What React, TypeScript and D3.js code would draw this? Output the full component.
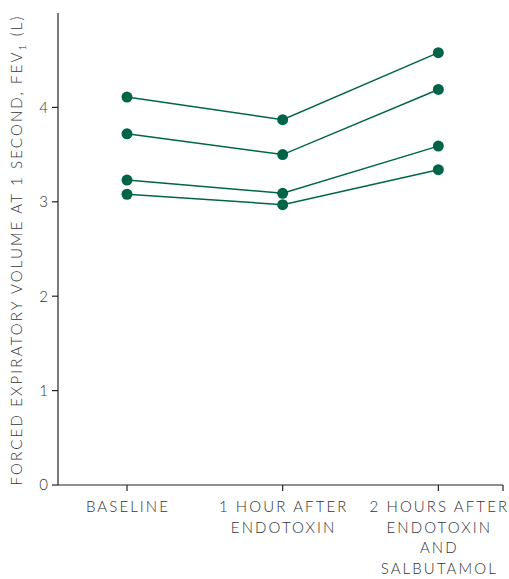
import React from "react";
import * as d3 from "d3";

const categories = ["BASELINE", "1 HOUR AFTER|ENDOTOXIN", "2 HOURS AFTER|ENDOTOXIN|AND|SALBUTAMOL"];
const series1 = [4.11, 3.87, 4.58];
const series2 = [3.72, 3.50, 4.19];
const series3 = [3.23, 3.09, 3.59];
const series4 = [3.08, 2.97, 3.34];
const allSeries = [series1, series2, series3, series4];
const yTicks = [0, 1, 2, 3, 4];

const W = 509, H = 579;
const left = 58, right = 503, top = 13, bottom = 485;
const green = "#006548";
const textColor = "#333";
const font = "Lato, 'Open Sans', sans-serif";

export default function App() {
  const y = d3.scaleLinear().domain([0, 5]).range([bottom, top]);
  const x = d3.scalePoint<number>().domain([0, 1, 2, 3]).range([127, 438 + (438 - 282)]);
  const line = d3.line<number>().x((_, i) => x(i)!).y((d) => y(d));
  return (
    <svg width={W} height={H} style={{ position: "absolute", left: 0, top: 0 }}>
      <line x1={left} x2={left} y1={top} y2={bottom} stroke="#222" strokeWidth={1.2} />
      <line x1={left} x2={right} y1={bottom} y2={bottom} stroke="#222" strokeWidth={1.2} />
      {yTicks.map((t) => (
        <g key={t}>
          <line x1={left - 6} x2={left} y1={y(t)} y2={y(t)} stroke="#222" strokeWidth={1.2} />
          <text x={left - 10} y={y(t)} dy="0.36em" textAnchor="end" fontSize={15} fontWeight={300} fill={textColor} fontFamily={font}>{t}</text>
        </g>
      ))}
      {[0, 1, 2].map((i) => (
        <line key={i} x1={x(i)} x2={x(i)} y1={bottom} y2={bottom + 6} stroke="#222" strokeWidth={1.2} />
      ))}
      <line x1={right} x2={right} y1={bottom} y2={bottom + 6} stroke="#222" strokeWidth={1.2} />
      {categories.map((c, i) => (
        <text key={c} textAnchor="middle" fontSize={15} fontWeight={300} fill={textColor} fontFamily={font} letterSpacing={2.1}>
          {c.split("|").map((s, j) => (
            <tspan key={j} x={x(i)! + 1} y={512 + j * 20.5}>{s}</tspan>
          ))}
        </text>
      ))}
      <text transform={`translate(22,${(top + bottom) / 2 + 1}) rotate(-90)`} textAnchor="middle" fontSize={15} fontWeight={300} fill={textColor} fontFamily={font} letterSpacing={2.15}>
        FORCED EXPIRATORY VOLUME AT 1 SECOND, FEV<tspan fontSize={10} dy={4}>1</tspan><tspan dy={-4}> (L)</tspan>
      </text>
      {allSeries.map((s, k) => (
        <g key={k}>
          <path d={line(s)!} fill="none" stroke={green} strokeWidth={1.5} />
          {s.map((v, i) => (
            <circle key={i} cx={x(i)} cy={y(v)} r={5.5} fill={green} />
          ))}
        </g>
      ))}
    </svg>
  );
}
